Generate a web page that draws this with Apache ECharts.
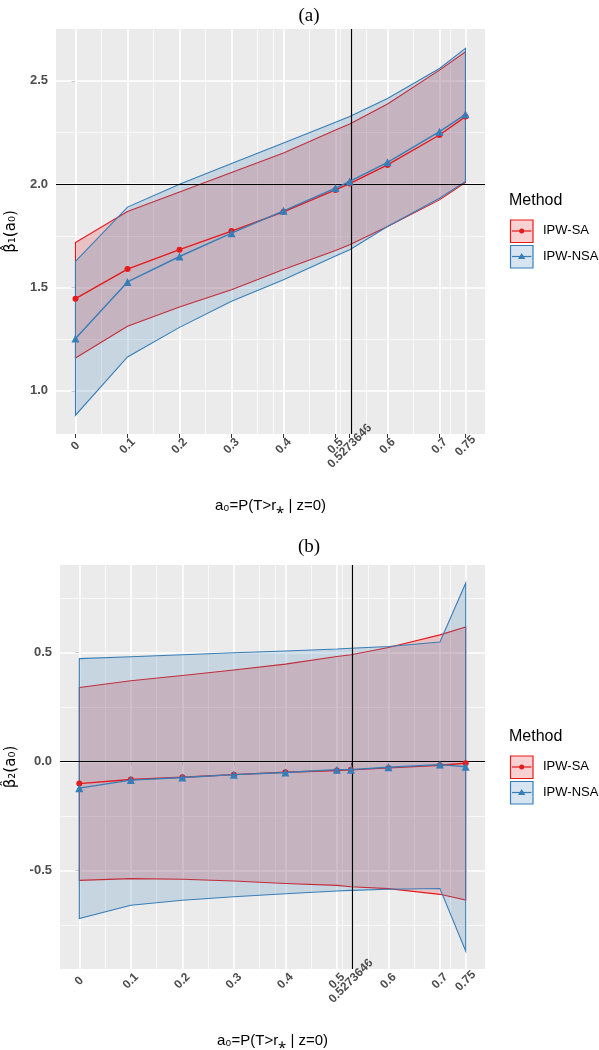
<!DOCTYPE html>
<html>
<head>
<meta charset="utf-8">
<script src="https://cdn.jsdelivr.net/npm/echarts@6/dist/echarts.min.js"></script>
<style>
html,body{margin:0;padding:0;background:#fff;}
#chart{width:599px;height:1050px;}
</style>
</head>
<body>
<div id="chart"></div>
<script>
// ---- data ----
const xs = [0, 0.1, 0.2, 0.3, 0.4, 0.5, 0.5273646, 0.6, 0.7, 0.75];
const xTickValues = [0, 0.1, 0.2, 0.3, 0.4, 0.5, 0.5273646, 0.6, 0.7, 0.75];
const xMinorGrid = [0.05, 0.15, 0.25, 0.35, 0.375, 0.45, 0.5136823, 0.5636823, 0.65, 0.725];
const vRef = 0.5273646;

// panel (a): beta1
const aSAmean  = [1.446, 1.589, 1.683, 1.773, 1.866, 1.972, 2.003, 2.093, 2.238, 2.327];
const aSAup    = [1.718, 1.868, 1.962, 2.057, 2.151, 2.262, 2.291, 2.388, 2.552, 2.641];
const aSAlo    = [1.159, 1.312, 1.406, 1.489, 1.587, 1.679, 1.707, 1.795, 1.924, 2.008];
const aNSAmean = [1.253, 1.527, 1.650, 1.763, 1.871, 1.981, 2.013, 2.106, 2.254, 2.338];
const aNSAup   = [1.626, 1.889, 2.000, 2.100, 2.199, 2.300, 2.327, 2.415, 2.560, 2.657];
const aNSAlo   = [0.882, 1.164, 1.307, 1.433, 1.538, 1.652, 1.683, 1.795, 1.932, 2.013];
const aYTicks  = [1.0, 1.5, 2.0, 2.5];
const aYMinor  = [1.25, 1.75, 2.25];
const aHRef = 2.0;

// panel (b): beta2
const bSAmean  = [-0.101, -0.082, -0.072, -0.060, -0.049, -0.041, -0.038, -0.029, -0.017, -0.008];
const bSAup    = [0.340, 0.371, 0.395, 0.420, 0.447, 0.482, 0.490, 0.523, 0.581, 0.617];
const bSAlo    = [-0.545, -0.537, -0.540, -0.548, -0.559, -0.568, -0.574, -0.583, -0.609, -0.635];
const bNSAmean = [-0.122, -0.085, -0.073, -0.060, -0.050, -0.037, -0.037, -0.026, -0.014, -0.024];
const bNSAup   = [0.472, 0.481, 0.490, 0.499, 0.507, 0.516, 0.520, 0.528, 0.548, 0.818];
const bNSAlo   = [-0.720, -0.659, -0.636, -0.620, -0.606, -0.594, -0.591, -0.586, -0.582, -0.869];
const bYTicks  = [-0.5, 0.0, 0.5];
const bYMinor  = [-0.75, -0.25, 0.25, 0.75];
const bHRef = 0.0;

const methods = ['IPW-SA', 'IPW-NSA'];

// ---- styling ----
const RED = '#E41A1C', BLUE = '#377EB8';
const RED_F = 'rgba(228,26,28,0.2)', BLUE_F = 'rgba(55,126,184,0.2)';
const FONT = 'Liberation Sans';

const chart = echarts.init(document.getElementById('chart'), null, {renderer: 'canvas'});

function zip(x, y) { return x.map((v, i) => [v, y[i]]); }

function ribbon(idx, up, lo, stroke, fill) {
  return {
    type: 'custom', xAxisIndex: idx, yAxisIndex: idx, z: 3, silent: true,
    data: [[xs[0], up[0]]],
    renderItem: function (params, api) {
      const pts = [];
      for (let i = 0; i < xs.length; i++) pts.push(api.coord([xs[i], up[i]]));
      for (let i = xs.length - 1; i >= 0; i--) pts.push(api.coord([xs[i], lo[i]]));
      return {type: 'polygon', shape: {points: pts},
              style: {fill: fill, stroke: stroke, lineWidth: 1.1}};
    }
  };
}

function gridLines(idx, yMajor, yMinor, hRef) {
  const ml = [];
  xTickValues.forEach(v => ml.push({xAxis: v, lineStyle: {color: '#fff', width: 1.6}}));
  xMinorGrid.forEach(v => ml.push({xAxis: v, lineStyle: {color: '#fff', width: 0.7}}));
  yMajor.forEach(v => ml.push({yAxis: v, lineStyle: {color: '#fff', width: 1.6}}));
  yMinor.forEach(v => ml.push({yAxis: v, lineStyle: {color: '#fff', width: 0.7}}));
  return [{
    type: 'line', xAxisIndex: idx, yAxisIndex: idx, data: [], z: 1, silent: true,
    markLine: {silent: true, symbol: 'none', z: 1, label: {show: false},
               lineStyle: {type: 'solid'}, data: ml}
  }, {
    type: 'line', xAxisIndex: idx, yAxisIndex: idx, data: [], z: 4, silent: true,
    markLine: {silent: true, symbol: 'none', z: 4, label: {show: false},
               lineStyle: {type: 'solid', color: '#000', width: 1.2},
               data: [{xAxis: vRef}, {yAxis: hRef}]}
  }];
}

function meanLines(idx, sa, nsa) {
  return [{
    type: 'line', name: methods[0], xAxisIndex: idx, yAxisIndex: idx, z: 5,
    data: zip(xs, sa), symbol: 'circle', symbolSize: 6, showSymbol: true,
    lineStyle: {color: RED, width: 1.4}, itemStyle: {color: RED}, silent: true
  }, {
    type: 'line', name: methods[1], xAxisIndex: idx, yAxisIndex: idx, z: 6,
    data: zip(xs, nsa), symbol: 'triangle', symbolSize: 8, showSymbol: true,
    lineStyle: {color: BLUE, width: 1.4}, itemStyle: {color: BLUE}, silent: true
  }];
}

function xAxisDef(idx) {
  return {
    type: 'value', gridIndex: idx, min: -0.0375, max: 0.7875,
    name: 'a₀=P(T>r⁎ | z=0)', nameLocation: 'middle', nameGap: 64,
    nameTextStyle: {fontFamily: FONT, fontSize: 15, color: '#000'},
    axisLine: {show: false}, splitLine: {show: false},
    axisTick: {show: true, length: 4, lineStyle: {color: '#333', width: 1}, customValues: xTickValues},
    axisLabel: {customValues: xTickValues, rotate: 45, align: 'center', verticalAlign: 'middle',
                margin: 12, fontFamily: FONT, fontSize: 12, fontWeight: 'bold', color: '#4D4D4D',
                formatter: v => String(v)}
  };
}

function yAxisDef(idx, min, max, ticks, name) {
  return {
    type: 'value', gridIndex: idx, min: min, max: max,
    name: name, nameLocation: 'middle', nameGap: 30,
    nameTextStyle: {fontFamily: 'DejaVu Sans', fontSize: 15, color: '#000'},
    axisLine: {show: false}, splitLine: {show: false},
    axisTick: {show: true, length: 4, lineStyle: {color: '#333', width: 1}, customValues: ticks},
    axisLabel: {customValues: ticks, margin: 8, fontFamily: FONT, fontSize: 13, fontWeight: 'bold',
                color: '#4D4D4D', formatter: v => v.toFixed(1)}
  };
}

function legendGraphic(top) {
  const items = [];
  items.push({type: 'text', left: 509, top: top - 10,
              style: {text: 'Method', font: '16px "' + FONT + '"', fill: '#000'}});
  const y1 = top + 28, y2 = top + 53.5;
  [[y1, RED, RED_F, 'circle', methods[0]], [y2, BLUE, BLUE_F, 'triangle', methods[1]]].forEach(r => {
    const y = r[0];
    items.push({type: 'rect', shape: {x: 510.5, y: y - 11, width: 22.5, height: 22.5},
                style: {fill: r[2], stroke: r[1], lineWidth: 1.2}});
    items.push({type: 'line', shape: {x1: 512, y1: y, x2: 531.5, y2: y},
                style: {stroke: r[1], lineWidth: 1.2}});
    if (r[3] === 'circle') {
      items.push({type: 'circle', shape: {cx: 521.7, cy: y, r: 2.5}, style: {fill: r[1]}});
    } else {
      items.push({type: 'polygon', shape: {points: [[521.7, y - 3.5], [518, y + 2.5], [525.4, y + 2.5]]},
                  style: {fill: r[1]}});
    }
    items.push({type: 'text', left: 543, top: y - 7,
                style: {text: r[4], font: '13px "' + FONT + '"', fill: '#000'}});
  });
  return items;
}

const option = {
  animation: false,
  backgroundColor: '#fff',
  title: [
    {text: '(a)', left: 304, top: 2, textAlign: 'center',
     textStyle: {fontFamily: 'Liberation Serif', fontSize: 19, fontWeight: 'normal', color: '#000'}},
    {text: '(b)', left: 304, top: 533, textAlign: 'center',
     textStyle: {fontFamily: 'Liberation Serif', fontSize: 19, fontWeight: 'normal', color: '#000'}}
  ],
  grid: [
    {left: 56, top: 29, width: 429, height: 405, backgroundColor: '#EBEBEB', show: true, borderWidth: 0,
     outerBoundsMode: 'none', containLabel: false},
    {left: 60, top: 565, width: 425, height: 404, backgroundColor: '#EBEBEB', show: true, borderWidth: 0,
     outerBoundsMode: 'none', containLabel: false}
  ],
  xAxis: [xAxisDef(0), xAxisDef(1)],
  yAxis: [
    yAxisDef(0, 0.791, 2.751, aYTicks, 'β̂₁(a₀)'),
    yAxisDef(1, -0.9515, 0.9016, bYTicks, 'β̂₂(a₀)')
  ],
  graphic: legendGraphic(203).concat(legendGraphic(739)),
  series: [].concat(
    gridLines(0, aYTicks, aYMinor, aHRef),
    [ribbon(0, aSAup, aSAlo, RED, RED_F), ribbon(0, aNSAup, aNSAlo, BLUE, BLUE_F)],
    meanLines(0, aSAmean, aNSAmean),
    gridLines(1, bYTicks, bYMinor, bHRef),
    [ribbon(1, bSAup, bSAlo, RED, RED_F), ribbon(1, bNSAup, bNSAlo, BLUE, BLUE_F)],
    meanLines(1, bSAmean, bNSAmean)
  )
};
chart.setOption(option);
</script>
</body>
</html>
